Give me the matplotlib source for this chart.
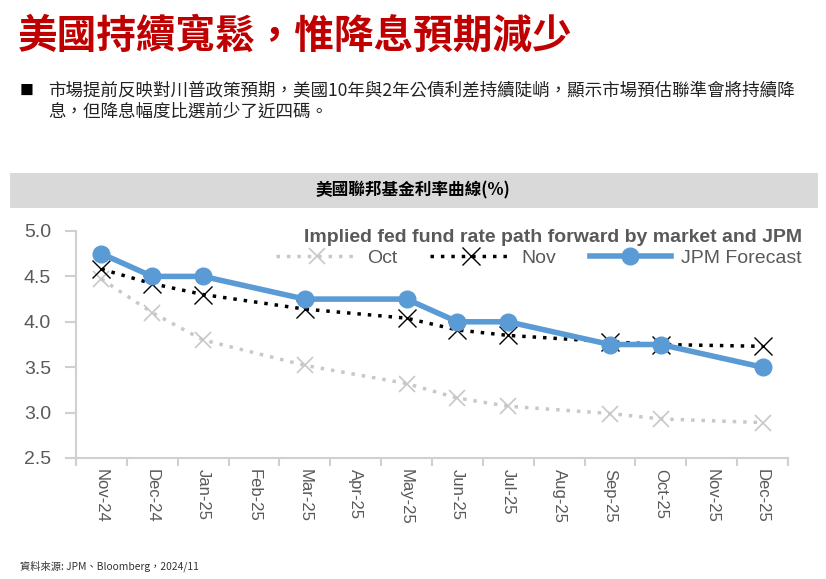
import matplotlib.pyplot as plt
from matplotlib.patches import Rectangle

# month slots on the x axis
months = ['Nov-24', 'Dec-24', 'Jan-25', 'Feb-25', 'Mar-25', 'Apr-25', 'May-25',
          'Jun-25', 'Jul-25', 'Aug-25', 'Sep-25', 'Oct-25', 'Nov-25', 'Dec-25']

# months that carry a data point (index into months)
point_idx = [0, 1, 2, 4, 6, 7, 8, 10, 11, 13]

oct_path = [4.47, 4.10, 3.80, 3.52, 3.32, 3.16, 3.07, 2.99, 2.93, 2.89]
nov_path = [4.58, 4.42, 4.30, 4.14, 4.04, 3.91, 3.85, 3.78, 3.75, 3.73]
jpm_path = [4.75, 4.50, 4.50, 4.25, 4.25, 4.00, 4.00, 3.75, 3.75, 3.50]

yticks = [2.5, 3.0, 3.5, 4.0, 4.5, 5.0]

cjk = ['Noto Sans CJK TC', 'DejaVu Sans']
latin = ['Liberation Sans', 'DejaVu Sans']
grey_txt = '#595959'

fig = plt.figure(figsize=(8.26, 5.79), dpi=100)
W, H = 826, 579

# header texts
fig.text(18 / W, 1 - 36 / H, '美國持續寬鬆，惟降息預期減少', family=cjk,
         fontsize=28.5, fontweight='bold', color='#C00000', va='center')
fig.text(20 / W, 1 - 91 / H, '■', family=cjk, fontsize=10, color='black', va='center')
fig.text(48 / W, 1 - 91 / H,
         '市場提前反映對川普政策預期，美國10年與2年公債利差持續陡峭，顯示市場預估聯準會將持續降',
         family=cjk, fontsize=12.6, color='#222222', va='center')
fig.text(48 / W, 1 - 112 / H, '息，但降息幅度比選前少了近四碼。',
         family=cjk, fontsize=12.6, color='#222222', va='center')

# grey band with chart title
fig.patches.append(Rectangle((10 / W, 1 - 208 / H), 808 / W, 35 / H,
                             transform=fig.transFigure, facecolor='#D9D9D9',
                             edgecolor='none', zorder=0))
fig.text(413 / W, 1 - 190 / H, '美國聯邦基金利率曲線(%)', family=cjk,
         fontsize=12, fontweight='bold', color='black', ha='center', va='center')

# footer
fig.text(20 / W, 1 - 566 / H, '資料來源: JPM、Bloomberg，2024/11', family=cjk,
         fontsize=7.4, color='#333333', va='center')

# chart
ax = fig.add_axes([76 / W, 1 - 458 / H, 712 / W, 227 / H])
ax.plot(point_idx, oct_path, color='#C8C8C8', ls=(0, (1, 2)), lw=2.5,
        marker='x', ms=11, mew=1.2, label='Oct')
ax.plot(point_idx, nov_path, color='black', ls=(0, (1, 2)), lw=2.5,
        marker='x', ms=13, mew=1.0, label='Nov')
ax.plot(point_idx, jpm_path, color='#5B9BD5', lw=4, marker='o', ms=12,
        label='JPM Forecast')

ax.set_xlim(-0.5, len(months) - 0.5)
ax.set_ylim(2.5, 5.0)
ax.set_yticks(yticks)
ax.set_yticklabels([f'{v:.1f}' for v in yticks], family=latin, fontsize=14,
                   color=grey_txt)
ax.set_xticks(range(len(months)))
ax.set_xticklabels(months, family=latin, fontsize=12, color=grey_txt)
ax.set_xticks([i - 0.5 for i in range(len(months) + 1)], minor=True)
ax.tick_params(axis='x', which='major', length=0, pad=8, labelrotation=270)
ax.tick_params(axis='x', which='minor', length=6, color='#D0D0D0', width=1.5)
ax.tick_params(axis='y', length=8, color='#D0D0D0', width=1.5, pad=10)
for s in ['top', 'right']:
    ax.spines[s].set_visible(False)
for s in ['left', 'bottom']:
    ax.spines[s].set_color('#D0D0D0')
    ax.spines[s].set_linewidth(1.5)

leg = ax.legend(loc='upper right', bbox_to_anchor=(1.03, 1.045), ncol=3,
                frameon=False, title='Implied fed fund rate path forward by market and JPM',
                prop={'family': latin, 'size': 14}, handlelength=4.2,
                columnspacing=1.7, handletextpad=0.5, borderaxespad=0,
                labelspacing=0.2, alignment='right')
leg.get_title().set_fontweight('bold')
leg.get_title().set_fontsize(14)
leg.get_title().set_color(grey_txt)
leg.get_title().set_family(latin)
for t in leg.get_texts():
    t.set_color(grey_txt)

fig.savefig('out.png', dpi=100)
